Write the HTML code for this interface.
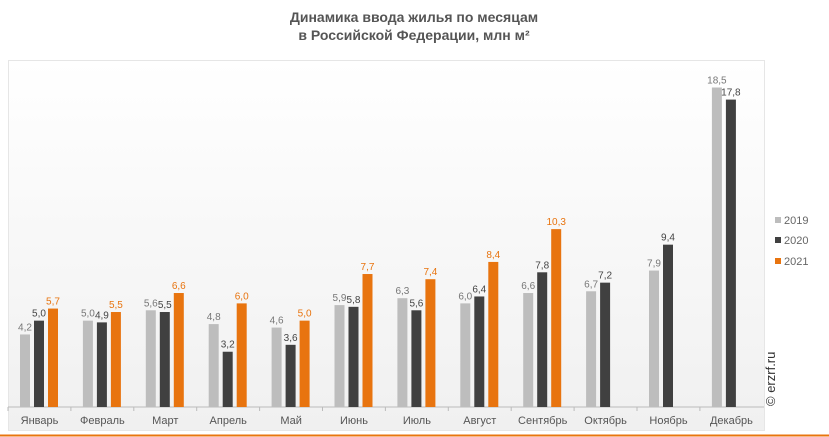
<!DOCTYPE html>
<html><head><meta charset="utf-8"><style>
body{margin:0;width:829px;height:437px;background:#fff;font-family:"Liberation Sans",sans-serif;overflow:hidden;position:relative}
</style></head><body>
<svg width="829" height="437" style="position:absolute;left:0;top:0">
<defs><linearGradient id="g" x1="0" y1="0" x2="0" y2="1"><stop offset="0" stop-color="#fff"/><stop offset="1" stop-color="#f0f0f0"/></linearGradient></defs>
<text x="414" y="22" text-anchor="middle" font-size="14" font-weight="bold" fill="#555">Динамика ввода жилья по месяцам</text>
<text x="414" y="40" text-anchor="middle" font-size="14" font-weight="bold" fill="#555">в Российской Федерации, млн м²</text>
<rect x="8.5" y="60.5" width="756" height="370" fill="url(#g)" stroke="#e6e6e6"/>
<line x1="8" y1="407" x2="764" y2="407" stroke="#bbb"/>
<g id="bars"></g>
<text x="784" y="224" font-size="11" fill="#666">2019</text>
<text x="784" y="244" font-size="11" fill="#666">2020</text>
<text x="784" y="265" font-size="11" fill="#666">2021</text>
<rect x="784" y="216" width="0" height="0"/>
<text transform="translate(775,406) rotate(-90)" font-size="13" fill="#333">© erzrf.ru</text>
<line x1="0" y1="435.5" x2="829" y2="435.5" stroke="#e8740f" stroke-width="2"/>
</svg>
<script>
var d=[[4.2,5.0,5.7],[5.0,4.9,5.5],[5.6,5.5,6.6],[4.8,3.2,6.0],[4.6,3.6,5.0],[5.9,5.8,7.7],[6.3,5.6,7.4],[6.0,6.4,8.4],[6.6,7.8,10.3],[6.7,7.2,null],[7.9,9.4,null],[18.5,17.8,null]];
var m=["Январь","Февраль","Март","Апрель","Май","Июнь","Июль","Август","Сентябрь","Октябрь","Ноябрь","Декабрь"];
var c=["#bdbdbd","#404040","#e8740f"],tc=["#777","#444","#e8740f"];
var s="",B=407,k=17.27;
for(var i=0;i<12;i++){var x0=8+i*62.9;s+='<line x1="'+x0+'" y1="407" x2="'+x0+'" y2="411" stroke="#bbb"/>';
s+='<text x="'+(x0+31.5)+'" y="424" text-anchor="middle" font-size="11" fill="#555">'+m[i]+'</text>';
for(var j=0;j<3;j++){var v=d[i][j];if(v==null)continue;var h=v*k,x=x0+12+j*14;
s+='<rect x="'+x+'" y="'+(B-h)+'" width="10" height="'+h+'" fill="'+c[j]+'"/>';
s+='<text x="'+(x+5)+'" y="'+(B-h-4)+'" text-anchor="middle" font-size="10" fill="'+tc[j]+'">'+v.toFixed(1).replace(".",",")+'</text>';}}
s+='<rect x="775" y="217" width="6" height="6" fill="#bdbdbd"/><rect x="775" y="237" width="6" height="6" fill="#404040"/><rect x="775" y="258" width="6" height="6" fill="#e8740f"/>';
document.getElementById("bars").innerHTML=s;
</script>
</body></html>
